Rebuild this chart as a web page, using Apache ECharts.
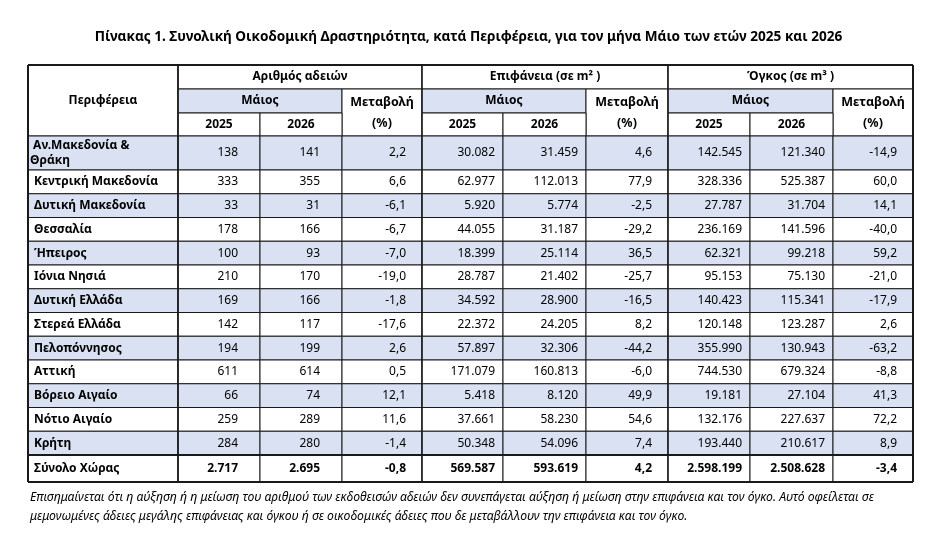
<!DOCTYPE html>
<html lang="el">
  <head>
    <meta charset="UTF-8" />
    <title>Πίνακας 1</title>
    <script src="https://cdn.jsdelivr.net/npm/echarts@6/dist/echarts.min.js"></script>
    <style>
      html, body { margin: 0; padding: 0; background: #fff; }
      #main { width: 937px; height: 541px; }
    </style>
  </head>
  <body>
    <div id="main"></div>
    <script>
      const regions = [
        " Αν.Μακεδονία &\nΘράκη", "Κεντρική Μακεδονία", "Δυτική Μακεδονία", "Θεσσαλία",
        "Ήπειρος", "Ιόνια Νησιά", "Δυτική Ελλάδα", "Στερεά Ελλάδα", "Πελοπόννησος",
        "Αττική", "Βόρειο Αιγαίο", "Νότιο Αιγαίο", "Κρήτη", "Σύνολο Χώρας"
      ];
      const permits2025 = [138, 333, 33, 178, 100, 210, 169, 142, 194, 611, 66, 259, 284, 2717];
      const permits2026 = [141, 355, 31, 166, 93, 170, 166, 117, 199, 614, 74, 289, 280, 2695];
      const permitsChange = [2.2, 6.6, -6.1, -6.7, -7.0, -19.0, -1.8, -17.6, 2.6, 0.5, 12.1, 11.6, -1.4, -0.8];
      const area2025 = [30082, 62977, 5920, 44055, 18399, 28787, 34592, 22372, 57897, 171079, 5418, 37661, 50348, 569587];
      const area2026 = [31459, 112013, 5774, 31187, 25114, 21402, 28900, 24205, 32306, 160813, 8120, 58230, 54096, 593619];
      const areaChange = [4.6, 77.9, -2.5, -29.2, 36.5, -25.7, -16.5, 8.2, -44.2, -6.0, 49.9, 54.6, 7.4, 4.2];
      const volume2025 = [142545, 328336, 27787, 236169, 62321, 95153, 140423, 120148, 355990, 744530, 19181, 132176, 193440, 2598199];
      const volume2026 = [121340, 525387, 31704, 141596, 99218, 75130, 115341, 123287, 130943, 679324, 27104, 227637, 210617, 2508628];
      const volumeChange = [-14.9, 60.0, 14.1, -40.0, 59.2, -21.0, -17.9, 2.6, -63.2, -8.8, 41.3, 72.2, 8.9, -3.4];

      const groupNames = ["Αριθμός αδειών", "Επιφάνεια (σε m² )", "Όγκος (σε m³ )"];
      const yearNames = ["2025", "2026"];

      // table layout (in table units, mapped through the axes)
      const colEdges = [0, 150, 232, 314, 394, 475, 558, 640, 722, 805, 885];
      const rowEdges = [0, 24, 48, 71, 105, 128.75, 152.5, 176.25, 200, 223.75, 247.5,
        271.25, 295, 318.75, 342.5, 366.25, 390, 417];
      const padRight = [22, 22, 16, 8, 8, 16, 8, 8, 16];

      const blue = "#d9e1f2";
      const font = "'Noto Sans', 'DejaVu Sans', sans-serif";

      function fmtInt(n) {
        return String(n).replace(/\B(?=(\d{3})+(?!\d))/g, ".");
      }
      function fmtPct(n) {
        return n.toFixed(1).replace(".", ",");
      }

      // cells
      const cells = [];
      cells.push({ c0: 0, c1: 1, r0: 0, r1: 3, text: "Περιφέρεια", align: "center", bold: true });
      for (let g = 0; g < 3; g++) {
        const c = 1 + g * 3;
        cells.push({ c0: c, c1: c + 3, r0: 0, r1: 1, text: groupNames[g], align: "center", bold: true });
        cells.push({ c0: c, c1: c + 2, r0: 1, r1: 2, text: "Μάιος", align: "center", bold: true, fill: blue });
        cells.push({ c0: c + 2, c1: c + 3, r0: 1, r1: 3, text: "Μεταβολή\n(%)", align: "center", bold: true, lh: 21, size: 12.5 });
        cells.push({ c0: c, c1: c + 1, r0: 2, r1: 3, text: yearNames[0], align: "center", bold: true });
        cells.push({ c0: c + 1, c1: c + 2, r0: 2, r1: 3, text: yearNames[1], align: "center", bold: true });
      }
      const columns = [
        permits2025.map(fmtInt), permits2026.map(fmtInt), permitsChange.map(fmtPct),
        area2025.map(fmtInt), area2026.map(fmtInt), areaChange.map(fmtPct),
        volume2025.map(fmtInt), volume2026.map(fmtInt), volumeChange.map(fmtPct)
      ];
      regions.forEach((name, i) => {
        const fill = i % 2 === 0 && i < regions.length - 1 ? blue : null;
        const total = i === regions.length - 1;
        cells.push({ c0: 0, c1: 1, r0: 3 + i, r1: 4 + i, text: name, align: "left",
          bold: true, fill: fill, padL: i === 0 ? 2 : 6, lh: 15 });
        columns.forEach((col, j) => {
          cells.push({ c0: j + 1, c1: j + 2, r0: 3 + i, r1: 4 + i, text: col[i], align: "right",
            bold: total, fill: fill, padR: padRight[j] });
        });
      });

      // heavier rules
      const last = rowEdges.length - 1;
      const rules = [
        [0, 0, 10, 0, 2], [0, last, 10, last, 2], [0, 0, 0, last, 2], [10, 0, 10, last, 2],
        [0, last - 1, 10, last - 1, 2],
        [1, 0, 1, last, 1.6], [4, 0, 4, last, 1.3], [7, 0, 7, last, 1.3]
      ];

      const chart = echarts.init(document.getElementById("main"));
      chart.setOption({
        animation: false,
        title: {
          text: "Πίνακας 1. Συνολική Οικοδομική Δραστηριότητα, κατά Περιφέρεια, για τον μήνα Μάιο των ετών 2025 και 2026",
          left: "center",
          top: 25,
          textStyle: { fontFamily: font, fontSize: 13.6, fontWeight: "bold", color: "#000" }
        },
        grid: { left: 28, top: 65, width: 885, height: 417 },
        xAxis: { type: "value", min: 0, max: 885, show: false },
        yAxis: { type: "value", min: 0, max: 417, inverse: true, show: false },
        graphic: [
          {
            type: "text", left: 30, top: 492,
            style: {
              text: "Επισημαίνεται ότι η αύξηση ή η μείωση του αριθμού των εκδοθεισών αδειών δεν συνεπάγεται αύξηση ή μείωση στην επιφάνεια και τον όγκο. Αυτό οφείλεται σε",
              font: "italic 12.2px " + font, fill: "#000"
            }
          },
          {
            type: "text", left: 30, top: 511,
            style: {
              text: "μεμονωμένες άδειες μεγάλης επιφάνειας και όγκου ή σε οικοδομικές άδειες που δε μεταβάλλουν την επιφάνεια και τον όγκο.",
              font: "italic 12.2px " + font, fill: "#000"
            }
          }
        ],
        series: [
          {
            type: "custom",
            clip: false,
            data: cells.map((d) => [colEdges[d.c0], rowEdges[d.r0]]),
            renderItem: function (params, api) {
              const d = cells[params.dataIndex];
              const p0 = api.coord([colEdges[d.c0], rowEdges[d.r0]]);
              const p1 = api.coord([colEdges[d.c1], rowEdges[d.r1]]);
              const w = p1[0] - p0[0];
              const h = p1[1] - p0[1];
              let tx = p0[0] + w / 2;
              if (d.align === "left") tx = p0[0] + d.padL;
              if (d.align === "right") tx = p1[0] - d.padR;
              return {
                type: "group",
                children: [
                  {
                    type: "rect",
                    shape: { x: p0[0], y: p0[1], width: w, height: h },
                    style: { fill: d.fill || "#fff", stroke: "#1a1a1a", lineWidth: 1 }
                  },
                  {
                    type: "text",
                    style: {
                      text: d.text,
                      x: tx,
                      y: p0[1] + h / 2,
                      align: d.align,
                      verticalAlign: "middle",
                      fill: "#000",
                      lineHeight: d.lh || 16,
                      font: (d.bold ? "bold " : "") + (d.size || 12) + "px " + font
                    }
                  }
                ]
              };
            }
          },
          {
            type: "custom",
            clip: false,
            data: rules.map((r) => [colEdges[r[0]], rowEdges[r[1]]]),
            renderItem: function (params, api) {
              const r = rules[params.dataIndex];
              const a = api.coord([colEdges[r[0]], rowEdges[r[1]]]);
              const b = api.coord([colEdges[r[2]], rowEdges[r[3]]]);
              return {
                type: "line",
                shape: { x1: a[0], y1: a[1], x2: b[0], y2: b[1] },
                style: { stroke: "#1a1a1a", lineWidth: r[4] }
              };
            }
          }
        ]
      });
    </script>
  </body>
</html>
